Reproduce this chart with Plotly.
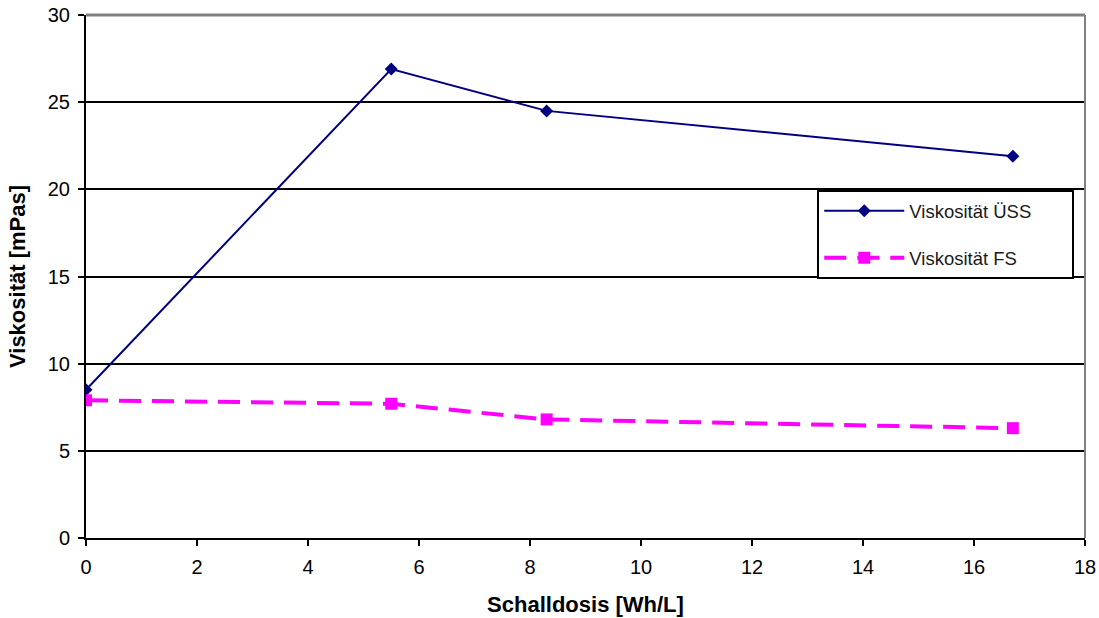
import plotly.graph_objects as go

x_uss = [0, 5.5, 8.3, 16.7]
y_uss = [8.5, 26.9, 24.5, 21.9]
x_fs = [0, 5.5, 8.3, 16.7]
y_fs = [7.9, 7.7, 6.8, 6.3]

PAD = "\u00a0" * 7

fig = go.Figure()
fig.add_trace(go.Scatter(x=x_uss, y=y_uss, mode="lines+markers", name="Viskosität ÜSS" + PAD,
                         legendgroup="a",
                         line=dict(color="#000080", width=2),
                         marker=dict(symbol="diamond", size=10, color="#000080")))
fig.add_trace(go.Scatter(x=x_fs, y=y_fs, mode="lines+markers", name="Viskosität FS" + PAD,
                         legendgroup="b",
                         line=dict(color="#FF00FF", width=4, dash="22px,11px"),
                         marker=dict(symbol="square", size=12, color="#FF00FF")))

fam = "Liberation Sans, Arial, sans-serif"
tick_font = dict(family=fam, size=20, color="black")
title_font = dict(family=fam, size=22, color="black")
fig.update_layout(
    width=1099, height=618,
    margin=dict(l=86, r=14, t=15, b=80, autoexpand=False),
    plot_bgcolor="white", paper_bgcolor="white",
    font=dict(family=fam, size=20, color="black"),
    xaxis=dict(range=[0, 18], dtick=2, tick0=0, showgrid=False, zeroline=False,
               showline=True, linecolor="black", linewidth=2, mirror=False,
               ticks="outside", ticklen=6, tickcolor="black", tickwidth=2,
               tickfont=tick_font, automargin=False, ticklabelstandoff=4,
               title=dict(text="<b>Schalldosis [Wh/L]</b>", font=title_font, standoff=20)),
    yaxis=dict(range=[0, 30], dtick=5, tick0=0, showgrid=True, gridcolor="black", gridwidth=2,
               zeroline=False, showline=True, linecolor="black", linewidth=2,
               ticks="outside", ticklen=6, tickcolor="black", tickwidth=2,
               tickfont=tick_font, automargin=False, ticklabelstandoff=4,
               title=dict(text="<b>Viskosität [mPas]</b>", font=title_font, standoff=16)),
    legend=dict(x=0.732, y=0.665, xanchor="left", yanchor="top",
                bgcolor="white", bordercolor="black", borderwidth=2,
                font=dict(family=fam, size=18.5, color="#1a1a1a"),
                traceorder="grouped", tracegroupgap=20, itemwidth=80),
    showlegend=True,
)
# gray top and right border
fig.add_shape(type="line", xref="paper", yref="paper", x0=0, x1=1, y0=1, y1=1,
              line=dict(color="#808080", width=3))
fig.add_shape(type="line", xref="paper", yref="paper", x0=1, x1=1, y0=0, y1=1,
              line=dict(color="#808080", width=2))

fig.write_html("out.html")
